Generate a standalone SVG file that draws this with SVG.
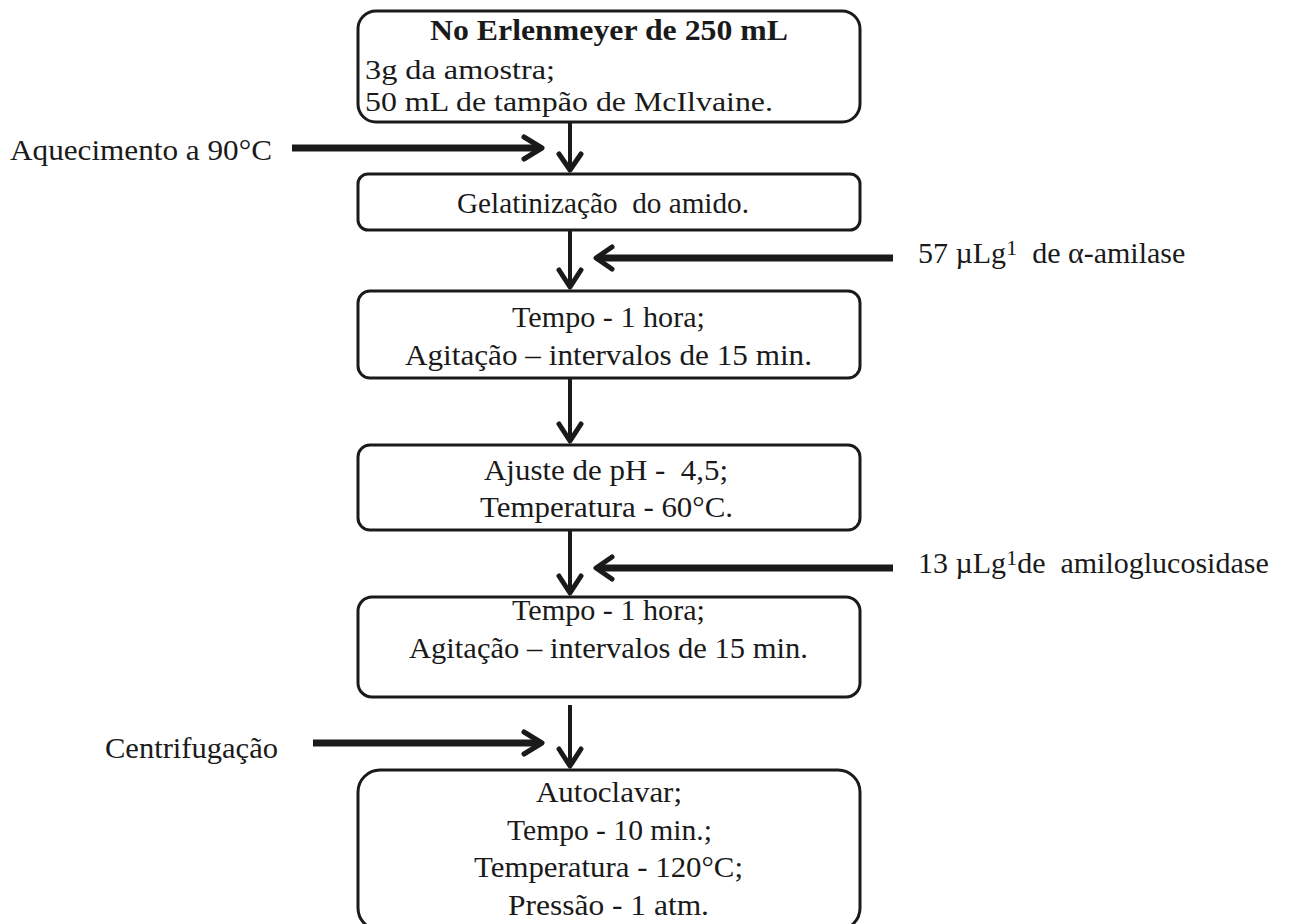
<svg xmlns="http://www.w3.org/2000/svg" width="1291" height="924" viewBox="0 0 1291 924">
<style>
.box{fill:#fff;stroke:#1a1a1a;stroke-width:3}
.t{font-family:"Liberation Serif","Times New Roman",serif;font-size:30px;fill:#1a1a1a}
.s{font-size:27px}
.b{font-weight:bold}
.ln{stroke:#1a1a1a;stroke-width:4;fill:none}
.hd{stroke:#1a1a1a;stroke-width:5;fill:none;stroke-linecap:round;stroke-linejoin:round}
.hl{stroke:#1a1a1a;stroke-width:7;fill:none}
</style>
<rect width="1291" height="924" fill="#fff"/>
<g id="connectors">
<line class="ln" x1="570" y1="122" x2="570" y2="170"/><path class="hd" d="M559,154 L570,170 L581,154"/>
<line class="hl" x1="292" y1="148" x2="540" y2="148"/><path class="hd" d="M524,137 L542,148 L524,159"/>
<line class="ln" x1="570" y1="230" x2="570" y2="287"/><path class="hd" d="M559,270 L570,287 L581,270"/>
<line class="hl" x1="893" y1="258" x2="600" y2="258"/><path class="hd" d="M612,247 L596,258 L612,269"/>
<line class="ln" x1="570" y1="378" x2="570" y2="441"/><path class="hd" d="M559,424 L570,441 L581,424"/>
<line class="ln" x1="570" y1="530" x2="570" y2="593"/><path class="hd" d="M559,576 L570,593 L581,576"/>
<line class="hl" x1="893" y1="568" x2="600" y2="568"/><path class="hd" d="M612,557 L596,568 L612,579"/>
<line class="ln" x1="570" y1="705" x2="570" y2="766"/><path class="hd" d="M559,749 L570,766 L581,749"/>
<line class="hl" x1="313" y1="743" x2="540" y2="743"/><path class="hd" d="M524,732 L542,743 L524,754"/>
</g>
<g id="n1"><rect class="box" x="358" y="11" width="502" height="111" rx="18"/>
<text class="t b" x="430" y="40" textLength="358" lengthAdjust="spacingAndGlyphs">No Erlenmeyer de 250 mL</text>
<text class="t s" x="365" y="79" textLength="190" lengthAdjust="spacingAndGlyphs">3g da amostra;</text>
<text class="t s" x="365" y="111" textLength="408" lengthAdjust="spacingAndGlyphs">50 mL de tampão de McIlvaine.</text></g>
<g id="n2"><rect class="box" x="358" y="174" width="502" height="56" rx="10"/>
<text class="t" x="457" y="213" textLength="292" lengthAdjust="spacingAndGlyphs" xml:space="preserve">Gelatinização  do amido.</text></g>
<g id="n3"><rect class="box" x="358" y="291" width="502" height="87" rx="12"/>
<text class="t" x="512" y="327" textLength="193" lengthAdjust="spacingAndGlyphs">Tempo - 1 hora;</text>
<text class="t" x="405" y="365" textLength="407" lengthAdjust="spacingAndGlyphs">Agitação – intervalos de 15 min.</text></g>
<g id="n4"><rect class="box" x="358" y="445" width="502" height="85" rx="12"/>
<text class="t" x="484" y="480" textLength="244" lengthAdjust="spacingAndGlyphs" xml:space="preserve">Ajuste de pH -  4,5;</text>
<text class="t" x="480" y="517" textLength="253" lengthAdjust="spacingAndGlyphs">Temperatura - 60°C.</text></g>
<g id="n5"><rect class="box" x="358" y="597" width="502" height="100" rx="14"/>
<text class="t" x="512" y="620" textLength="193" lengthAdjust="spacingAndGlyphs">Tempo - 1 hora;</text>
<text class="t" x="409" y="658" textLength="399" lengthAdjust="spacingAndGlyphs">Agitação – intervalos de 15 min.</text></g>
<g id="n6"><rect class="box" x="358" y="770" width="502" height="160" rx="22"/>
<text class="t" x="536" y="802" textLength="146" lengthAdjust="spacingAndGlyphs">Autoclavar;</text>
<text class="t" x="507" y="840" textLength="205" lengthAdjust="spacingAndGlyphs">Tempo - 10 min.;</text>
<text class="t" x="474" y="877" textLength="269" lengthAdjust="spacingAndGlyphs">Temperatura - 120°C;</text>
<text class="t" x="508" y="915" textLength="201" lengthAdjust="spacingAndGlyphs">Pressão - 1 atm.</text></g>
<g id="labels">
<text class="t" x="10" y="160" textLength="262" lengthAdjust="spacingAndGlyphs">Aquecimento a 90°C</text>
<text class="t" x="918" y="263" xml:space="preserve">57 µLg<tspan dy="-8" font-size="22">1</tspan><tspan dy="8">  de α-amilase</tspan></text>
<text class="t" x="918" y="573" xml:space="preserve">13 µLg<tspan dy="-8" font-size="22">1</tspan><tspan dy="8">de  amiloglucosidase</tspan></text>
<text class="t" x="105" y="758" textLength="173" lengthAdjust="spacingAndGlyphs">Centrifugação</text>
</g>
</svg>
